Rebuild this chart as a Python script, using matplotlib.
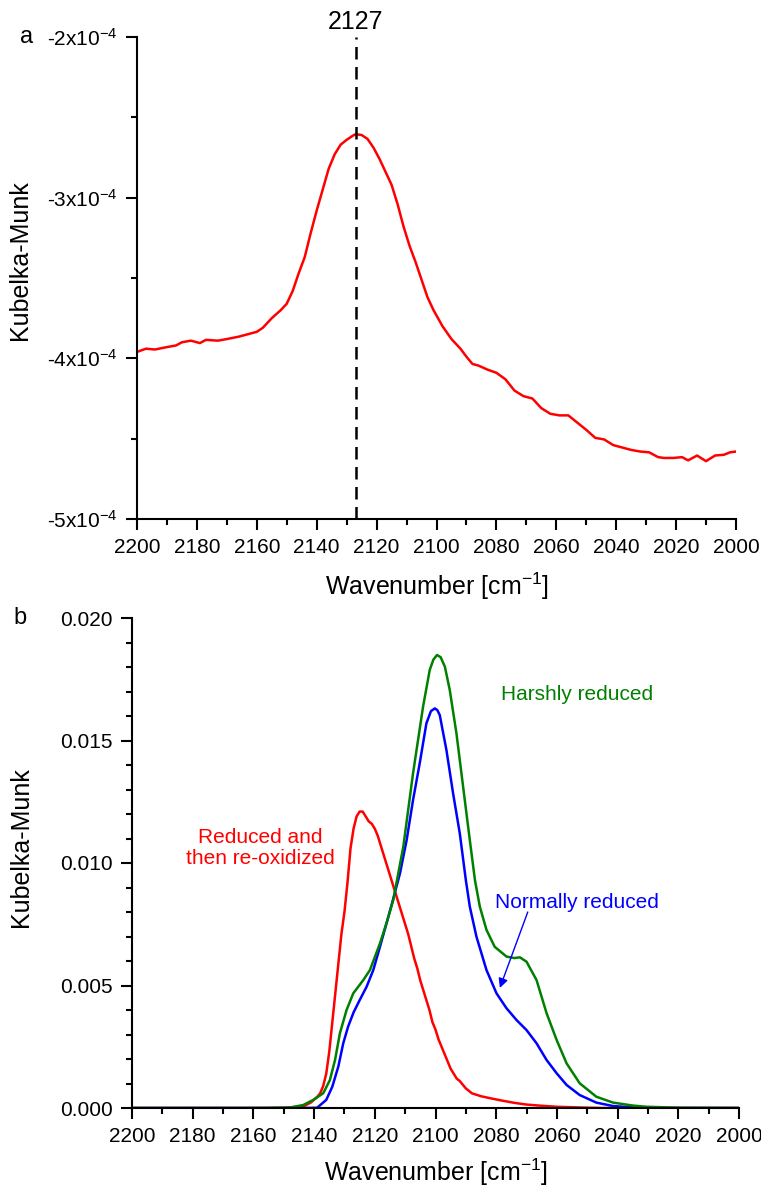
import matplotlib
matplotlib.use("Agg")
import matplotlib.pyplot as plt
import numpy as np

plt.rcParams['font.family'] = ['Liberation Sans', 'DejaVu Sans']
plt.rcParams['mathtext.fontset'] = 'custom'
plt.rcParams['mathtext.rm'] = 'Liberation Sans'
plt.rcParams['mathtext.default'] = 'regular'
plt.rcParams['axes.unicode_minus'] = False

# (a) difference spectrum, Kubelka-Munk in units of 1e-4
wn_a = [2200, 2197, 2194, 2190, 2187, 2185, 2182, 2179, 2177, 2173, 2170, 2166,
        2163, 2160, 2158, 2155, 2152, 2150, 2148, 2146, 2144, 2142, 2140, 2138,
        2136, 2134, 2132, 2130, 2128, 2127, 2125, 2123, 2121, 2119, 2117, 2115,
        2113, 2111, 2109, 2107, 2105, 2103, 2101, 2098, 2095, 2092, 2090, 2088,
        2086, 2083, 2080, 2077, 2074, 2071, 2068, 2065, 2062, 2059, 2056, 2053,
        2050, 2047, 2044, 2041, 2038, 2035, 2032, 2029, 2026, 2024, 2021, 2018,
        2016, 2013, 2010, 2007, 2004, 2002, 2000]
km_a = [-3.96, -3.94, -3.945, -3.93, -3.92, -3.90, -3.89, -3.905, -3.885, -3.89,
        -3.88, -3.865, -3.85, -3.835, -3.81, -3.75, -3.70, -3.66, -3.58, -3.47,
        -3.37, -3.22, -3.08, -2.95, -2.82, -2.73, -2.67, -2.64, -2.615, -2.605,
        -2.61, -2.635, -2.69, -2.76, -2.84, -2.92, -3.04, -3.18, -3.30, -3.40,
        -3.51, -3.62, -3.70, -3.80, -3.88, -3.94, -3.99, -4.035, -4.045, -4.07,
        -4.09, -4.13, -4.20, -4.235, -4.25, -4.31, -4.345, -4.355, -4.355, -4.40,
        -4.445, -4.495, -4.505, -4.54, -4.555, -4.57, -4.58, -4.585, -4.615,
        -4.62, -4.62, -4.615, -4.635, -4.605, -4.64, -4.605, -4.60, -4.585, -4.58]
peak_a = 2127

# (b) spectra after the different treatments
wn_reox = [2200, 2160, 2150, 2146, 2143, 2141, 2139, 2138, 2137, 2136, 2135, 2134,
           2133, 2132, 2131, 2130, 2129, 2128, 2127, 2126, 2125, 2124, 2123, 2122,
           2121, 2120, 2119, 2118, 2117, 2116, 2115, 2114, 2113, 2112, 2111, 2110,
           2109, 2108, 2107, 2106, 2105, 2104, 2103, 2102, 2101, 2100, 2099, 2098,
           2097, 2096, 2095, 2094, 2093, 2092, 2090, 2088, 2085, 2082, 2078, 2074,
           2070, 2066, 2060, 2052, 2045, 2000]
km_reox = [0.0, 0.0, 0.00001, 0.00004, 0.0001, 0.00023, 0.00045, 0.0006, 0.0009,
           0.0014, 0.0023, 0.0035, 0.0047, 0.0059, 0.0071, 0.0080, 0.0092, 0.0106,
           0.0114, 0.0119, 0.0121, 0.0121, 0.0119, 0.0117, 0.0116, 0.0114, 0.0111,
           0.0107, 0.0103, 0.0099, 0.0095, 0.0091, 0.0087, 0.0083, 0.0079, 0.0075,
           0.0071, 0.0066, 0.0061, 0.0057, 0.0052, 0.0048, 0.0044, 0.0040, 0.0035,
           0.0032, 0.0028, 0.0025, 0.0022, 0.0019, 0.0016, 0.0014, 0.0012, 0.0011,
           0.0008, 0.0006, 0.00048, 0.0004, 0.0003, 0.00021, 0.00014, 0.0001,
           0.00005, 0.00002, 0.0, 0.0]

wn_norm = [2200, 2145, 2139, 2136, 2134, 2132, 2130.4, 2128.8, 2127, 2125, 2122.7,
           2120.5, 2118.3, 2116, 2114, 2111.7, 2109.5, 2107.4, 2105.2, 2103, 2101.5,
           2100.2, 2099.4, 2098.6, 2096.4, 2094.2, 2092, 2090, 2088.7, 2086.5,
           2083.2, 2079.9, 2076.6, 2073.3, 2070, 2066.7, 2063.4, 2060.1, 2056.8,
           2052.5, 2047, 2041.5, 2033, 2025, 2000]
km_norm = [0.0, 0.0, 0.00001, 0.00033, 0.00087, 0.0017, 0.00264, 0.00332, 0.0039,
           0.0044, 0.00495, 0.00563, 0.00658, 0.0076, 0.0085, 0.00958, 0.01094,
           0.01257, 0.01407, 0.0157, 0.0162, 0.01631, 0.01624, 0.01604, 0.01461,
           0.01284, 0.01121, 0.0093, 0.00822, 0.00699, 0.00563, 0.00468, 0.00407,
           0.00359, 0.00318, 0.00264, 0.00196, 0.00142, 0.00094, 0.00053, 0.00022,
           0.00008, 0.00001, 0.0, 0.0]

wn_harsh = [2200, 2155, 2148, 2143.6, 2140.3, 2137, 2134.8, 2133.1, 2131.5, 2129.3,
            2127.1, 2123.8, 2121.6, 2118.3, 2116, 2113.9, 2110.6, 2107.4, 2104.1,
            2101.9, 2100.7, 2099.5, 2098.3, 2096.9, 2095.3, 2093.1, 2090.9, 2088.7,
            2087, 2085.4, 2083.2, 2080.5, 2076.6, 2074, 2072.2, 2070, 2066.7, 2063.4,
            2060.1, 2056.8, 2052.5, 2047, 2041.5, 2035, 2030.5, 2019.5, 2000]
km_harsh = [0.0, 0.0, 0.00002, 0.00012, 0.00033, 0.0006, 0.00114, 0.00196, 0.00305,
            0.0040, 0.00468, 0.00522, 0.00563, 0.00672, 0.0076, 0.0085, 0.01067,
            0.01366, 0.01638, 0.01788, 0.0183, 0.01849, 0.0184, 0.01801, 0.01706,
            0.01529, 0.01311, 0.01094, 0.0093, 0.00822, 0.00727, 0.00658, 0.00618,
            0.00612, 0.00615, 0.00597, 0.00522, 0.00387, 0.00278, 0.00182, 0.00101,
            0.00046, 0.00022, 0.0001, 0.00005, 0.00001, 0.0]

RED = '#ff0000'
BLUE = '#0000ff'
GREEN = '#008000'
LW = 1.8


def style_axis(ax):
    for side in ('top', 'right'):
        ax.spines[side].set_visible(False)
    for side in ('left', 'bottom'):
        ax.spines[side].set_linewidth(1.5)
    ax.tick_params(which='major', direction='out', length=8, width=1.5,
                   labelsize=15, pad=6)
    ax.tick_params(which='minor', direction='out', length=4.5, width=1.5)
    ax.set_xlim(2200, 2000)
    ax.set_xticks(np.arange(2200, 1999, -20))
    ax.set_xticks(np.arange(2190, 2000, -20), minor=True)
    ax.set_xlabel('Wavenumber [cm$^{-1}$]', fontsize=18)
    ax.set_ylabel('Kubelka-Munk', fontsize=18)


fig = plt.figure(figsize=(7.61, 11.88), dpi=100)

# panel a
ax1 = fig.add_axes([137 / 761, 1 - 519 / 1188, 599 / 761, 482 / 1188])
style_axis(ax1)
ax1.plot(wn_a, np.array(km_a) * 1e-4, color=RED, lw=LW)
ax1.axvline(peak_a, color='black', lw=1.8, ls=(0, (5, 3)))
ax1.set_ylim(-5e-4, -2e-4)
ax1.set_yticks([-5e-4, -4e-4, -3e-4, -2e-4])
ax1.set_yticklabels(['-%dx10$^{-4}$' % k for k in (5, 4, 3, 2)])
ax1.set_yticks([-4.5e-4, -3.5e-4, -2.5e-4], minor=True)
ax1.text(peak_a, -1.905e-4, str(peak_a), ha='center', va='center',
         fontsize=18, clip_on=False)
ax1.xaxis.set_label_coords(0.5, -0.108)
ax1.yaxis.set_label_coords(-0.175, 0.537)
fig.text(27 / 761, 1 - 37 / 1188, 'a', fontsize=17, ha='center', va='center')

# panel b
ax2 = fig.add_axes([132 / 761, 1 - 1108 / 1188, 607 / 761, 490 / 1188])
style_axis(ax2)
ax2.plot(wn_reox, km_reox, color=RED, lw=LW)
ax2.plot(wn_norm, km_norm, color=BLUE, lw=LW)
ax2.plot(wn_harsh, km_harsh, color=GREEN, lw=LW)
ax2.set_ylim(0, 0.020)
ax2.set_yticks(np.arange(0, 0.0201, 0.005))
ax2.set_yticklabels(['%.3f' % v for v in np.arange(0, 0.0201, 0.005)])
ax2.set_yticks(np.arange(0, 0.0201, 0.001), minor=True)
ax2.xaxis.set_label_coords(0.5, -0.1)
ax2.yaxis.set_label_coords(-0.163, 0.533)

ax2.text(2053.5, 0.01686, 'Harshly reduced', color=GREEN, fontsize=15,
         ha='center', va='center')
ax2.text(2053.5, 0.0084, 'Normally reduced', color=BLUE, fontsize=15,
         ha='center', va='center')
ax2.text(2157.8, 0.0106, 'Reduced and\nthen re-oxidized', color=RED, fontsize=15,
         ha='center', va='center', linespacing=1.15)
ax2.annotate('', xy=(2078.8, 0.0049), xytext=(2069.6, 0.0080),
             arrowprops=dict(arrowstyle='-|>', color=BLUE, lw=1.0,
                             mutation_scale=14, shrinkA=0, shrinkB=0))
fig.text(20 / 761, 1 - 618 / 1188, 'b', fontsize=17, ha='center', va='center')

fig.savefig('out.png', dpi=100)
